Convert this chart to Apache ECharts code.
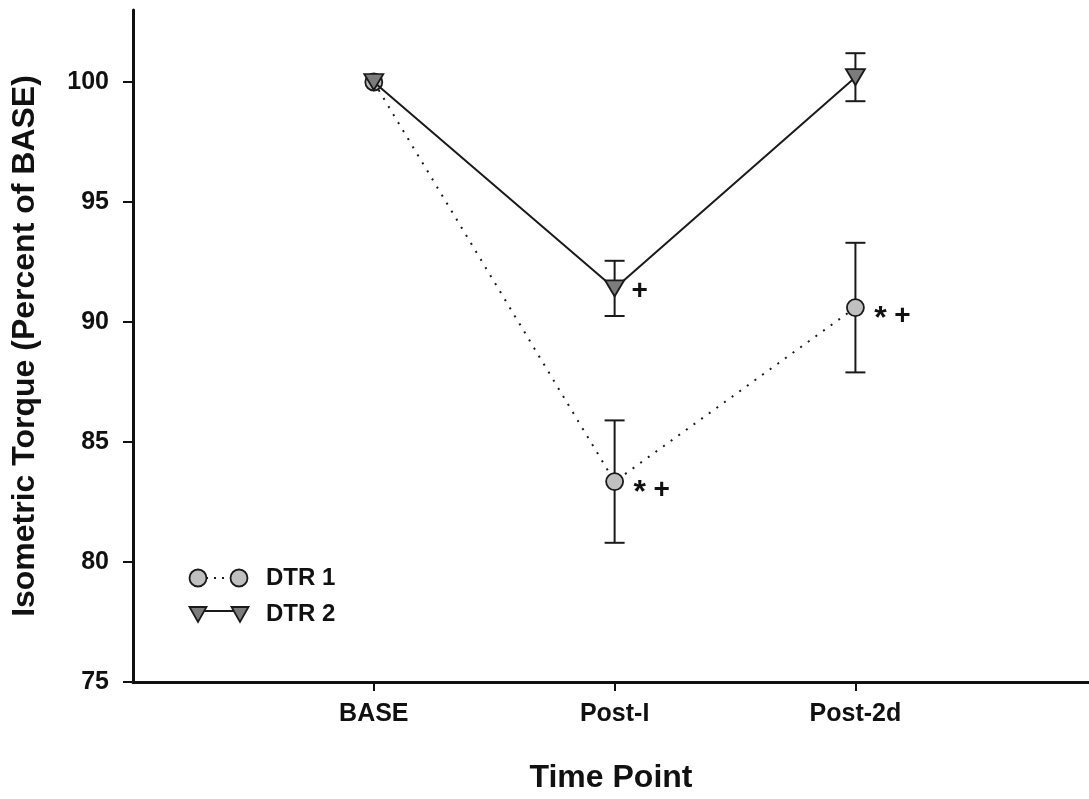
<!DOCTYPE html>
<html>
<head>
<meta charset="utf-8">
<script src="https://cdn.jsdelivr.net/npm/echarts@6/dist/echarts.min.js"></script>
<style>
  html, body { margin: 0; padding: 0; background: #ffffff; }
  #chart { width: 1089px; height: 799px; }
</style>
</head>
<body>
<div id="chart"></div>
<script>
// Time points on the x axis (placed at positions 1, 2, 3)
const timePoints = ['BASE', 'Post-I', 'Post-2d'];
const yTicks = [75, 80, 85, 90, 95, 100];

// DTR 1: mean isometric torque (% of BASE) and error
const dtr1Mean = [100, 83.35, 90.6];
const dtr1Err = [0, 2.55, 2.7];
const dtr1Marks = ['', '* +', '* +'];

// DTR 2: mean isometric torque (% of BASE) and error
const dtr2Mean = [100, 91.4, 100.2];
const dtr2Err = [0, 1.15, 1.0];
const dtr2Marks = ['', '+', ''];

const FONT = '"Liberation Sans", Arial, Helvetica, sans-serif';
const INK = '#111111';

const toPoints = arr => arr.map((v, i) => [i + 1, v]);

// Error bars with caps plus significance symbols to the right of each point
function errorBarRenderer(errs, marks, labelDy) {
  return function (params, api) {
    const i = params.dataIndex;
    const x = api.value(0), y = api.value(1);
    const e = errs[i];
    const c = api.coord([x, y]);
    const children = [];
    const st = { stroke: '#1a1a1a', lineWidth: 2 };
    if (e > 0) {
      const top = api.coord([x, y + e]);
      const bot = api.coord([x, y - e]);
      const hw = 10;
      children.push({ type: 'line', shape: { x1: top[0], y1: top[1], x2: bot[0], y2: bot[1] }, style: st });
      children.push({ type: 'line', shape: { x1: top[0] - hw, y1: top[1], x2: top[0] + hw, y2: top[1] }, style: st });
      children.push({ type: 'line', shape: { x1: bot[0] - hw, y1: bot[1], x2: bot[0] + hw, y2: bot[1] }, style: st });
    }
    const toks = marks[i] ? marks[i].split(' ') : [];
    toks.forEach((t, k) => {
      const star = t === '*';
      children.push({
        type: 'text',
        x: c[0] + 25 + 22 * k,
        y: c[1] + labelDy + (star ? 3 : 0),
        style: {
          text: t, fill: INK, fontFamily: FONT, fontWeight: 'bold', fontSize: star ? 32 : 28,
          align: 'center', verticalAlign: 'middle'
        }
      });
    });
    return { type: 'group', children };
  };
}

const chart = echarts.init(document.getElementById('chart'), null, { renderer: 'canvas' });

const legendX1 = 198, legendX2 = 239, legendTextX = 266;

chart.setOption({
  backgroundColor: '#ffffff',
  animation: false,
  grid: { left: 133, top: 10, right: 0, bottom: 117, containLabel: false },
  xAxis: {
    type: 'value',
    min: 0, max: 3.97, interval: 1,
    name: 'Time Point',
    nameLocation: 'middle',
    nameGap: 80,
    nameTextStyle: { fontFamily: FONT, fontWeight: 'bold', fontSize: 32, color: INK },
    axisLine: { onZero: false, lineStyle: { color: INK, width: 3 } },
    axisTick: { show: true, length: 9, customValues: [1, 2, 3], lineStyle: { color: INK, width: 2 } },
    axisLabel: {
      customValues: [1, 2, 3],
      formatter: v => timePoints[Math.round(v) - 1] || '',
      margin: 20,
      fontFamily: FONT, fontWeight: 'bold', fontSize: 25, color: INK
    },
    splitLine: { show: false }
  },
  yAxis: {
    type: 'value',
    min: 75, max: 103, interval: 5,
    name: 'Isometric Torque (Percent of BASE)',
    nameLocation: 'middle',
    nameGap: 92,
    nameTextStyle: { fontFamily: FONT, fontWeight: 'bold', fontSize: 32, color: INK },
    axisLine: { onZero: false, lineStyle: { color: INK, width: 3 } },
    axisTick: { show: true, length: 10, customValues: yTicks, lineStyle: { color: INK, width: 2 } },
    axisLabel: {
      customValues: yTicks,
      margin: 24,
      fontFamily: FONT, fontWeight: 'bold', fontSize: 25, color: INK
    },
    splitLine: { show: false }
  },
  series: [
    {
      name: 'DTR 1 error',
      type: 'custom',
      z: 1,
      data: toPoints(dtr1Mean),
      encode: { x: 0, y: 1 },
      renderItem: errorBarRenderer(dtr1Err, dtr1Marks, 9),
      silent: true
    },
    {
      name: 'DTR 2 error',
      type: 'custom',
      z: 1,
      data: toPoints(dtr2Mean),
      encode: { x: 0, y: 1 },
      renderItem: errorBarRenderer(dtr2Err, dtr2Marks, 3),
      silent: true
    },
    {
      name: 'DTR 1',
      type: 'line',
      z: 2,
      data: toPoints(dtr1Mean),
      symbol: 'circle',
      symbolSize: 17,
      showAllSymbol: true,
      lineStyle: { color: '#1a1a1a', width: 2, type: [2, 7.4] },
      itemStyle: { color: '#c0c0c0', borderColor: '#1a1a1a', borderWidth: 1.8 }
    },
    {
      name: 'DTR 2',
      type: 'line',
      z: 3,
      data: toPoints(dtr2Mean),
      symbol: 'triangle',
      symbolRotate: 180,
      symbolSize: [19, 16],
      showAllSymbol: true,
      lineStyle: { color: '#1a1a1a', width: 2 },
      itemStyle: { color: '#7c7c7c', borderColor: '#1a1a1a', borderWidth: 1.8 }
    }
  ],
  graphic: [
    // legend row: DTR 1
    { type: 'line', shape: { x1: legendX1, y1: 578, x2: legendX2, y2: 578 },
      style: { stroke: '#1a1a1a', lineWidth: 2, lineDash: [2, 6] }, z: 10 },
    { type: 'circle', shape: { cx: legendX1, cy: 578, r: 8.5 },
      style: { fill: '#c0c0c0', stroke: '#1a1a1a', lineWidth: 1.8 }, z: 11 },
    { type: 'circle', shape: { cx: legendX2, cy: 578, r: 8.5 },
      style: { fill: '#c0c0c0', stroke: '#1a1a1a', lineWidth: 1.8 }, z: 11 },
    { type: 'text', x: legendTextX, y: 578,
      style: { text: 'DTR 1', fill: INK, fontFamily: FONT, fontWeight: 'bold', fontSize: 24, verticalAlign: 'middle' }, z: 11 },
    // legend row: DTR 2
    { type: 'line', shape: { x1: legendX1, y1: 611, x2: legendX2 + 1, y2: 611 },
      style: { stroke: '#1a1a1a', lineWidth: 2 }, z: 10 },
    { type: 'polygon', shape: { points: [[legendX1 - 8.5, 607], [legendX1 + 8.5, 607], [legendX1, 622]] },
      style: { fill: '#7c7c7c', stroke: '#1a1a1a', lineWidth: 1.8 }, z: 11 },
    { type: 'polygon', shape: { points: [[legendX2 + 1 - 8.5, 607], [legendX2 + 1 + 8.5, 607], [legendX2 + 1, 622]] },
      style: { fill: '#7c7c7c', stroke: '#1a1a1a', lineWidth: 1.8 }, z: 11 },
    { type: 'text', x: legendTextX, y: 614,
      style: { text: 'DTR 2', fill: INK, fontFamily: FONT, fontWeight: 'bold', fontSize: 24, verticalAlign: 'middle' }, z: 11 }
  ]
});
</script>
</body>
</html>
